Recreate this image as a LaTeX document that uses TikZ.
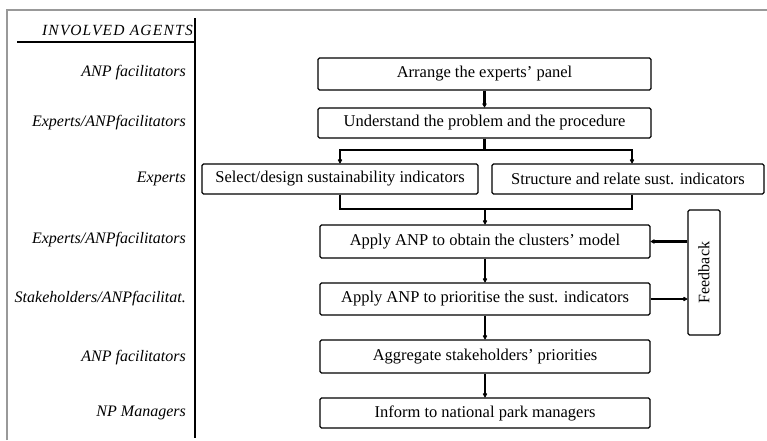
\documentclass[tikz,border=0pt]{standalone}
\usepackage{fontspec}
\setmainfont{Liberation Serif}
\usetikzlibrary{arrows.meta}
\begin{document}
\begin{tikzpicture}[x=1pt,y=-1pt,
  stepbox/.style={draw, line width=1.1pt, rounded corners=1.5pt, minimum height=31pt,
    inner sep=0pt, font=\fontsize{16.5}{18}\selectfont},
  agent/.style={anchor=east, font=\itshape\fontsize{16}{18}\selectfont, inner sep=0pt},
  conn/.style={line width=2.2pt},
  arr/.style={conn, -{Latex[length=5pt,width=5.5pt,round]}},
  frame/.style={draw=black!40, line width=1.4pt},
]
\useasboundingbox (0,0) rectangle (767,440);
% page frame
\draw[frame] (7,440) -- (7,10) -- (767,10);

% agents column
\node[agent, font=\itshape\fontsize{15.5}{17}\selectfont\addfontfeature{LetterSpace=8}] (hdr) at (193,30) {INVOLVED AGENTS};
\draw[line width=1.3pt] (17,42) -- (195,42);
\draw[line width=1.3pt] (195,18) -- (195,438);
\node[agent] (a1) at (186,73)  {ANP facilitators};
\node[agent] (a2) at (186,123) {Experts/ANPfacilitators};
\node[agent] (a3) at (186,179) {Experts};
\node[agent] (a4) at (186,240) {Experts/ANPfacilitators};
\node[agent] (a5) at (186,299) {Stakeholders/ANPfacilitat.};
\node[agent] (a6) at (186,358) {ANP facilitators};
\node[agent] (a7) at (186,413) {NP Managers};

% process steps
\node[stepbox, minimum width=333pt, minimum height=32pt] (arrange) at (484.5,74) {Arrange the experts' panel};
\node[stepbox, minimum width=333pt, minimum height=30pt] (underst) at (484.5,123) {Understand the problem and the procedure};
\node[stepbox, minimum width=276pt, minimum height=30pt] (select) at (340,179) {Select/design sustainability indicators};
\node[stepbox, minimum width=272pt, minimum height=30pt] (struct) at (628,179) {Structure and relate sust. indicators};
\node[stepbox, minimum width=330pt, minimum height=33pt] (clusters) at (485,241.5) {Apply ANP to obtain the clusters' model};
\node[stepbox, minimum width=330pt, minimum height=32pt] (prior) at (485,299) {Apply ANP to prioritise the sust. indicators};
\node[stepbox, minimum width=330pt, minimum height=33pt] (aggr) at (485,356.5) {Aggregate stakeholders' priorities};
\node[stepbox, minimum width=330pt, minimum height=30pt] (inform) at (485,413) {Inform to national park managers};
\node[stepbox, minimum width=32pt, minimum height=125pt] (feedback) at (704,272.5)
  {\rotatebox{90}{\fontsize{16}{18}\selectfont Feedback}};

% connectors
\draw[arr] (arrange.south) -- (underst.north);
\coordinate (split) at (484.5,150);
\draw[conn] (underst.south) -- (split);
\draw[arr] (split) -| (select.north);
\draw[arr] (split) -| ([xshift=4pt]struct.north);
\coordinate (merge) at (485,209);
\draw[conn] (select.south) |- (merge);
\draw[conn] ([xshift=4pt]struct.south) |- (merge);
\draw[arr] (merge) -- (clusters.north);
\draw[arr] (clusters.south) -- (prior.north);
\draw[arr] (prior.south) -- (aggr.north);
\draw[arr] (aggr.south) -- (inform.north);
\draw[arr] (prior.east) -- (feedback.west |- prior.east);
\draw[arr] (feedback.west |- clusters.east) -- (clusters.east);
\end{tikzpicture}
\end{document}
